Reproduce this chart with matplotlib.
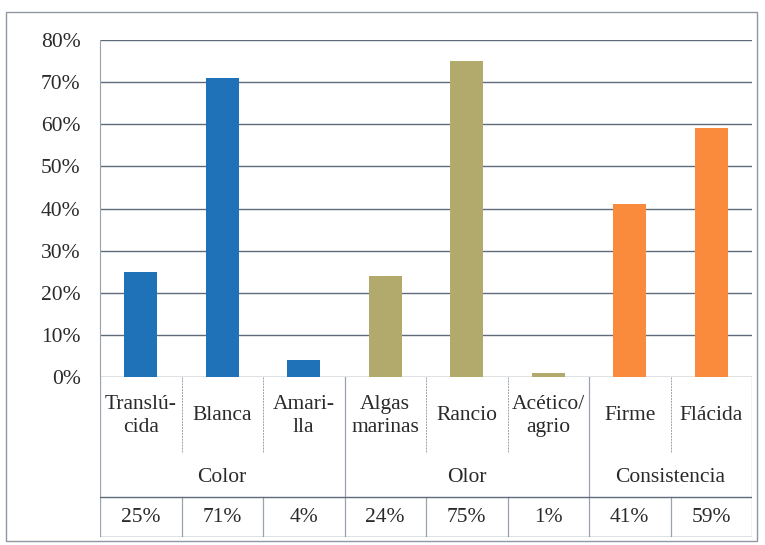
import matplotlib
matplotlib.use('Agg')
import matplotlib.pyplot as plt
from matplotlib.patches import Rectangle

plt.rcParams['font.family'] = ['Liberation Serif', 'DejaVu Serif']

categories = ['Translú-\ncida', 'Blanca', 'Amari-\nlla', 'Algas\nmarinas', 'Rancio',
              'Acético/\nagrio', 'Firme', 'Flácida']
values = [25, 71, 4, 24, 75, 1, 41, 59]
groups = ['Color', 'Olor', 'Consistencia']
group_sizes = [3, 3, 2]
group_colors = ['#1F72B8', '#B2AA6C', '#FA8A3C']
yticks = [0, 10, 20, 30, 40, 50, 60, 70, 80]

W, H = 765, 545
txt = '#2a2a2a'
grid_c = '#5F6B7A'
line_c = '#9AA3AD'
fs = 15.5

fig = plt.figure(figsize=(W / 100, H / 100), dpi=100)

# outer frame
fig.patches.append(Rectangle((6 / W, (H - 541) / H), 751 / W, 529 / H,
                             transform=fig.transFigure, fill=False,
                             edgecolor='#8E97A3', lw=1.0))

x0, x1 = 100, 752
y_top, y_base, y_bot = 40, 377, 537
ax = fig.add_axes([x0 / W, (H - y_base) / H, (x1 - x0) / W, (y_base - y_top) / H])

colors = []
for c, n in zip(group_colors, group_sizes):
    colors += [c] * n
xs = [i + 0.5 for i in range(len(values))]
ax.bar(xs, values, width=0.4, color=colors, zorder=3)

ax.set_xlim(0, len(values))
ax.set_ylim(0, 80)
ax.set_yticks(yticks)
ax.set_yticklabels([f'{t}%' for t in yticks], fontsize=fs, color=txt)
ax.tick_params(axis='y', length=0, pad=14)
ax.set_xticks([])
ax.grid(axis='y', color=grid_c, lw=1.0, zorder=1)
for s in ['top', 'right', 'bottom']:
    ax.spines[s].set_visible(False)
ax.spines['left'].set_color(line_c)
ax.spines['left'].set_linewidth(0.8)

# data table under the bars
tab = fig.add_axes([x0 / W, (H - y_bot) / H, (x1 - x0) / W, (y_bot - y_base) / H])
tab.set_xlim(0, len(values))
tab.set_ylim(y_bot - y_base, 0)
tab.axis('off')

r1, r2, r3 = 80, 120, y_bot - y_base
n = len(values)
for x in [0, n]:
    tab.plot([x, x], [0, r3], color=line_c, lw=0.9)
edges = [0]
for s in group_sizes:
    edges.append(edges[-1] + s)
for x in edges[1:-1]:
    tab.plot([x, x], [0, r3], color=line_c, lw=0.9)
for x in range(1, n):
    if x in edges:
        continue
    tab.plot([x, x], [0, r1 - 4], color=line_c, lw=0.7, ls=(0, (2, 1)))
    tab.plot([x, x], [r2, r3], color=line_c, lw=0.9)
tab.plot([0, n], [r2, r2], color=grid_c, lw=1.0)
tab.plot([0, n], [r3, r3], color=grid_c, lw=1.0)

for x, lab, v in zip(xs, categories, values):
    tab.text(x, r1 / 2 - 1, lab, ha='center', va='center', fontsize=fs,
             color=txt, linespacing=1.3)
    tab.text(x, (r2 + r3) / 2, f'{v}%', ha='center', va='center',
             fontsize=fs, color=txt)
for g, a, b in zip(groups, edges[:-1], edges[1:]):
    tab.text((a + b) / 2, (r1 + r2) / 2, g, ha='center', va='center',
             fontsize=fs, color=txt)

fig.savefig('out.png', dpi=100)
